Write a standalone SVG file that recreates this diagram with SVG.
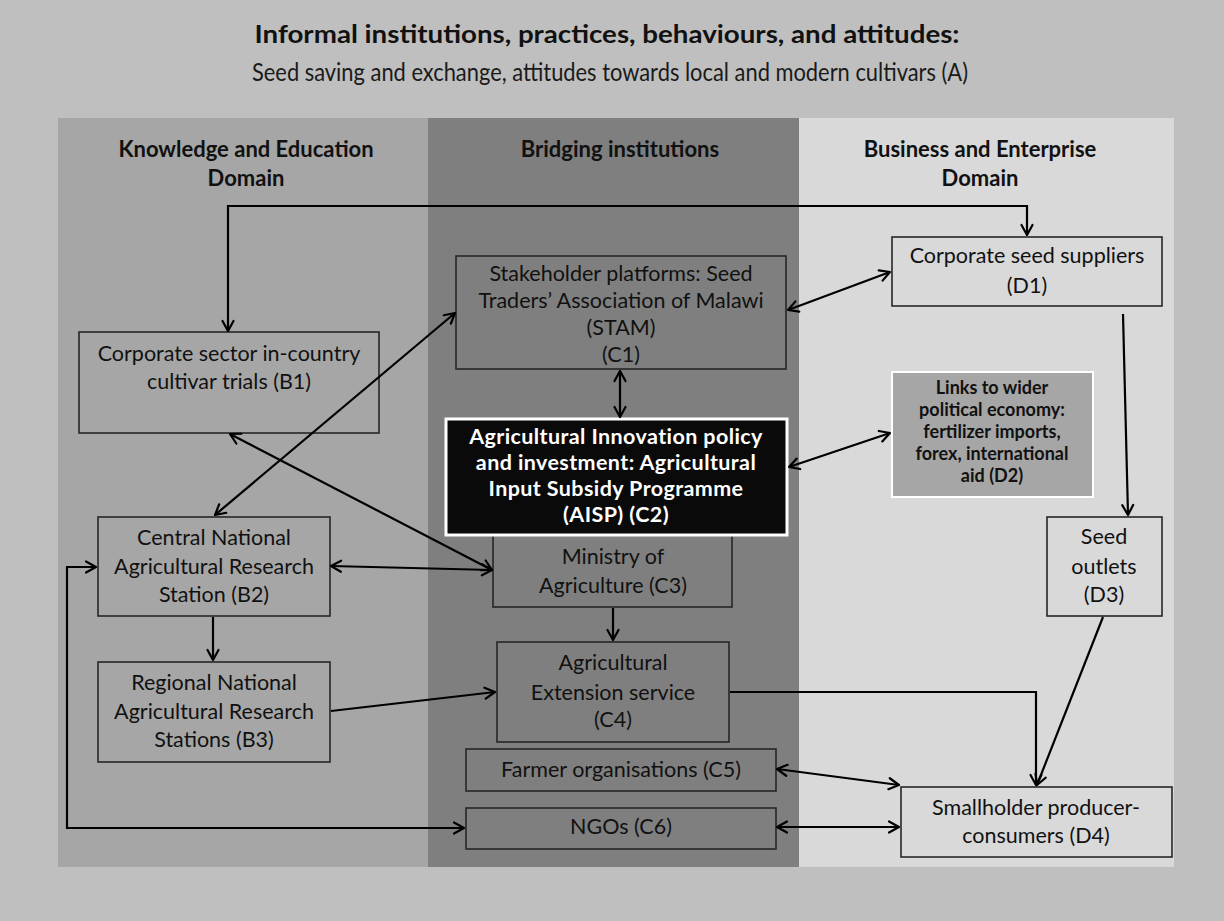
<svg xmlns="http://www.w3.org/2000/svg" width="1224" height="921" viewBox="0 0 1224 921">
  <defs>
    <marker id="ah" viewBox="0 0 14 14" refX="12" refY="7" markerWidth="14" markerHeight="14" markerUnits="userSpaceOnUse" orient="auto-start-reverse">
      <path d="M2,1.5 L12,7 L2,12.5" fill="none" stroke="#000" stroke-width="2.2" stroke-linecap="round" stroke-linejoin="round"/>
    </marker>
    <style>
      text { font-family: Lato, "Open Sans", "Liberation Sans", sans-serif; text-anchor: middle; fill: #111; }
      .title { font-size: 25px; font-weight: bold; }
      .sub { font-size: 25px; fill: #1a1a1a; }
      .hdr { font-size: 22px; font-weight: bold; }
      .lbl { font-size: 21.5px; }
      .box { fill: none; stroke: #262626; stroke-width: 1.6; }
      .key { fill: #0a0a0a; stroke: #fff; stroke-width: 3; }
      .key-t { font-size: 21.5px; font-weight: bold; fill: #fff; letter-spacing: 0.4px; }
      .ext { fill: #a6a6a6; stroke: #fff; stroke-width: 2; }
      .ext-t { font-size: 18px; font-weight: bold; }
      .conn path { fill: none; stroke: #000; stroke-width: 2.2; }
      .both { marker-start: url(#ah); marker-end: url(#ah); }
      .one { marker-end: url(#ah); }
    </style>
  </defs>

  <!-- background and domain columns -->
  <rect x="0" y="0" width="1224" height="921" fill="#bfbfbf"/>
  <rect x="58" y="118" width="371" height="749" fill="#a6a6a6"/>
  <rect x="428" y="118" width="372" height="749" fill="#7f7f7f"/>
  <rect x="799" y="118" width="375" height="749" fill="#d9d9d9"/>

  <g id="heading">
    <text class="title" x="607" y="43" textLength="705" lengthAdjust="spacingAndGlyphs">Informal institutions, practices, behaviours, and attitudes:</text>
    <text class="sub" x="610" y="81" textLength="716" lengthAdjust="spacingAndGlyphs">Seed saving and exchange, attitudes towards local and modern cultivars (A)</text>
  </g>

  <g id="domain-headers">
    <text class="hdr" x="246" y="157">Knowledge and Education</text>
    <text class="hdr" x="246" y="186">Domain</text>
    <text class="hdr" x="620" y="157">Bridging institutions</text>
    <text class="hdr" x="980" y="157">Business and Enterprise</text>
    <text class="hdr" x="980" y="186">Domain</text>
  </g>

  <!-- Knowledge and Education domain -->
  <g id="B1">
    <rect class="box" x="79" y="332" width="300" height="101"/>
    <text class="lbl" x="229" y="361">Corporate sector in-country</text>
    <text class="lbl" x="229" y="389">cultivar trials (B1)</text>
  </g>
  <g id="B2">
    <rect class="box" x="98" y="517" width="232" height="99"/>
    <text class="lbl" x="214" y="545">Central National</text>
    <text class="lbl" x="214" y="574">Agricultural Research</text>
    <text class="lbl" x="214" y="602">Station (B2)</text>
  </g>
  <g id="B3">
    <rect class="box" x="98" y="662" width="232" height="100"/>
    <text class="lbl" x="214" y="690">Regional National</text>
    <text class="lbl" x="214" y="719">Agricultural Research</text>
    <text class="lbl" x="214" y="747">Stations (B3)</text>
  </g>

  <!-- Bridging institutions -->
  <g id="C1">
    <rect class="box" x="456" y="256" width="330" height="113"/>
    <text class="lbl" x="621" y="281">Stakeholder platforms: Seed</text>
    <text class="lbl" x="621" y="308">Traders’ Association of Malawi</text>
    <text class="lbl" x="621" y="335">(STAM)</text>
    <text class="lbl" x="621" y="362">(C1)</text>
  </g>
  <g id="C3">
    <rect class="box" x="493" y="525" width="239" height="82"/>
    <text class="lbl" x="613" y="564">Ministry of</text>
    <text class="lbl" x="613" y="593">Agriculture (C3)</text>
  </g>
  <g id="C2">
    <rect class="key" x="446" y="419" width="341" height="116"/>
    <text class="key-t" x="616" y="444">Agricultural Innovation policy</text>
    <text class="key-t" x="616" y="470">and investment: Agricultural</text>
    <text class="key-t" x="616" y="496">Input Subsidy Programme</text>
    <text class="key-t" x="616" y="522">(AISP) (C2)</text>
  </g>
  <g id="C4">
    <rect class="box" x="497" y="642" width="232" height="100"/>
    <text class="lbl" x="613" y="670">Agricultural</text>
    <text class="lbl" x="613" y="700">Extension service</text>
    <text class="lbl" x="613" y="727">(C4)</text>
  </g>
  <g id="C5">
    <rect class="box" x="466" y="749" width="310" height="42"/>
    <text class="lbl" x="621" y="777">Farmer organisations (C5)</text>
  </g>
  <g id="C6">
    <rect class="box" x="466" y="808" width="310" height="41"/>
    <text class="lbl" x="621" y="834">NGOs (C6)</text>
  </g>

  <!-- Business and Enterprise domain -->
  <g id="D1">
    <rect class="box" x="892" y="237" width="270" height="69"/>
    <text class="lbl" x="1027" y="263">Corporate seed suppliers</text>
    <text class="lbl" x="1027" y="293">(D1)</text>
  </g>
  <g id="D2">
    <rect class="ext" x="892" y="372" width="201" height="125"/>
    <text class="ext-t" x="992" y="394">Links to wider</text>
    <text class="ext-t" x="992" y="416">political economy:</text>
    <text class="ext-t" x="992" y="438">fertilizer imports,</text>
    <text class="ext-t" x="992" y="460">forex, international</text>
    <text class="ext-t" x="992" y="482">aid (D2)</text>
  </g>
  <g id="D3">
    <rect class="box" x="1047" y="517" width="115" height="99"/>
    <text class="lbl" x="1104" y="544">Seed</text>
    <text class="lbl" x="1104" y="574">outlets</text>
    <text class="lbl" x="1104" y="602">(D3)</text>
  </g>
  <g id="D4">
    <rect class="box" x="901" y="787" width="271" height="70"/>
    <text class="lbl" x="1036" y="815">Smallholder producer-</text>
    <text class="lbl" x="1036" y="843">consumers (D4)</text>
  </g>

  <!-- connectors -->
  <g id="connectors" class="conn">
    <path class="both" d="M228,331 V206 H1027 V235"/>
    <path class="both" d="M230,434 L492,570"/>
    <path class="both" d="M215,515 L455,313"/>
    <path class="both" d="M331,566 L492,570"/>
    <path class="both" d="M620,371 V417"/>
    <path class="both" d="M788,310 L890,272"/>
    <path class="both" d="M789,467 L890,433"/>
    <path class="one" d="M1123,314 L1128,515"/>
    <path class="one" d="M1103,617 L1037,785"/>
    <path class="one" d="M213,617 V660"/>
    <path class="one" d="M613,608 V640"/>
    <path class="one" d="M331,711 L495,692"/>
    <path class="one" d="M730,692 H1036 V785"/>
    <path class="both" d="M777,769 L899,785"/>
    <path class="both" d="M777,827 L899,827"/>
    <path class="both" d="M96,567 H67 V828 H464"/>
  </g>
</svg>
